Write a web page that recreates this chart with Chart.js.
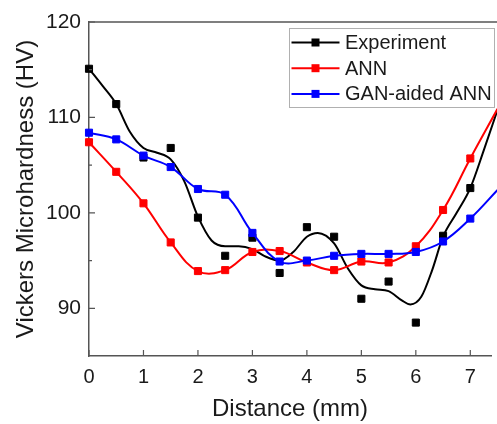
<!DOCTYPE html>
<html>
<head>
<meta charset="utf-8">
<script src="https://cdn.jsdelivr.net/npm/chart.js@4/dist/chart.umd.min.js"></script>
<style>
  html, body { margin: 0; padding: 0; background: #fff; overflow: hidden; }
  #c { display: block; }
</style>
</head>
<body>
<canvas id="c" width="497" height="424"></canvas>
<script>
// ---- Data ----
const distances = [0, 0.5, 1, 1.5, 2, 2.5, 3, 3.5, 4, 4.5, 5, 5.5, 6, 6.5, 7];
const experimentValues = [115.1, 111.4, 105.8, 106.8, 99.5, 95.5, 97.4, 93.7, 98.5, 97.5, 91.0, 92.8, 88.5, 97.6, 102.6];
const annValues = [107.4, 104.3, 101.0, 96.9, 93.9, 94.0, 95.9, 96.0, 94.8, 94.0, 94.9, 94.8, 96.5, 100.3, 105.7];
const ganValues = [108.4, 107.7, 106.0, 104.8, 102.5, 101.9, 97.9, 94.9, 95.0, 95.5, 95.7, 95.7, 95.9, 97.0, 99.4];
// line continuation past the right edge of the picture
const tailX = 7.5;
const annTail = 110.9;
const ganTail = 102.4;
// smoothed experiment curve
const expCurveX = [0, 0.25, 0.5, 0.75, 1.0, 1.25, 1.5, 1.75, 2.0, 2.25, 2.5, 2.75, 3.0, 3.25, 3.5, 3.75, 4.0, 4.2, 4.5, 4.75, 5.0, 5.25, 5.5, 5.75, 5.9, 6.1, 6.3, 6.5, 6.75, 7.0, 7.25, 7.5];
const expCurveY = [115.1, 113.3, 111.4, 108.5, 106.8, 106.3, 105.6, 103.3, 99.6, 97.1, 96.5, 96.5, 96.2, 95.4, 95.0, 95.9, 97.5, 97.9, 96.8, 94.2, 92.4, 92.0, 91.8, 90.8, 90.4, 91.2, 94.0, 97.5, 100.0, 102.6, 106.6, 110.8];
const xTickValues = [0, 1, 2, 3, 4, 5, 6, 7];
const yTickValues = [90, 100, 110, 120];
const yMinorTicks = [95, 105, 115];
const seriesLabels = ['Experiment', 'ANN', 'GAN-aided ANN'];
const seriesColors = ['#000000', '#ff0000', '#0000ff'];

const pts = (xs, ys) => xs.map((x, i) => ({x: x, y: ys[i]}));
const FONT = "'Liberation Sans', Arial, sans-serif";

const markerRadius = (n) => (ctx) => ctx.dataIndex < n ? 5 : 0;

const datasets = [
  {
    label: seriesLabels[2],
    data: pts(distances.concat([tailX]), ganValues.concat([ganTail])),
    borderColor: seriesColors[2], backgroundColor: seriesColors[2],
    pointBackgroundColor: seriesColors[2], pointBorderColor: seriesColors[2],
    borderWidth: 2, pointStyle: 'rect', pointRadius: markerRadius(distances.length), pointBorderWidth: 1,
    tension: 0.4, clip: false, order: 0, inLegend: true, legendIndex: 2
  },
  {
    label: seriesLabels[1],
    data: pts(distances.concat([tailX]), annValues.concat([annTail])),
    borderColor: seriesColors[1], backgroundColor: seriesColors[1],
    pointBackgroundColor: seriesColors[1], pointBorderColor: seriesColors[1],
    borderWidth: 2, pointStyle: 'rect', pointRadius: markerRadius(distances.length), pointBorderWidth: 1,
    tension: 0.4, clip: false, order: 1, inLegend: true, legendIndex: 1
  },
  {
    label: seriesLabels[0] + ' fit',
    data: pts(expCurveX, expCurveY),
    borderColor: seriesColors[0], backgroundColor: seriesColors[0],
    borderWidth: 2, pointRadius: 0, cubicInterpolationMode: 'monotone',
    clip: false, order: 2, inLegend: false
  },
  {
    label: seriesLabels[0],
    data: pts(distances, experimentValues),
    borderColor: seriesColors[0], backgroundColor: seriesColors[0],
    pointBackgroundColor: seriesColors[0], pointBorderColor: seriesColors[0],
    showLine: false, pointStyle: 'rect', pointRadius: 5, pointBorderWidth: 1,
    clip: false, order: 3, inLegend: true, legendIndex: 0
  }
];

const AXIS_COLOR = '#555555';

const frameAndLegend = {
  id: 'frameAndLegend',
  afterDraw(chart) {
    const ctx = chart.ctx;
    const ca = chart.chartArea;
    const xs = chart.scales.x, ys = chart.scales.y;
    ctx.save();
    // top frame line
    ctx.strokeStyle = AXIS_COLOR;
    ctx.lineWidth = 1.5;
    ctx.beginPath();
    ctx.moveTo(ca.left, ca.top);
    ctx.lineTo(chart.width, ca.top);
    ctx.stroke();
    // inward ticks
    ctx.lineWidth = 1.2;
    ctx.beginPath();
    xTickValues.forEach(v => {
      const px = xs.getPixelForValue(v);
      ctx.moveTo(px, ca.bottom);
      ctx.lineTo(px, ca.bottom - 6);
    });
    yTickValues.forEach(v => {
      const py = ys.getPixelForValue(v);
      ctx.moveTo(ca.left, py);
      ctx.lineTo(ca.left + 6, py);
    });
    yMinorTicks.forEach(v => {
      const py = ys.getPixelForValue(v);
      ctx.moveTo(ca.left, py);
      ctx.lineTo(ca.left + 3, py);
    });
    ctx.stroke();

    // legend
    const bx = 289.5, by = 28.5, bw = 205, bh = 79;
    ctx.fillStyle = '#ffffff';
    ctx.fillRect(bx, by, bw, bh);
    ctx.strokeStyle = '#b0b0b0';
    ctx.lineWidth = 1;
    ctx.strokeRect(bx, by, bw, bh);
    const items = chart.data.datasets.filter(d => d.inLegend).sort((a, b) => a.legendIndex - b.legendIndex);
    ctx.font = '20px ' + FONT;
    ctx.textBaseline = 'middle';
    ctx.textAlign = 'left';
    items.forEach((d, i) => {
      const y = 42.5 + i * 25.7;
      ctx.strokeStyle = d.borderColor;
      ctx.lineWidth = 2;
      ctx.beginPath();
      ctx.moveTo(291.5, y);
      ctx.lineTo(339.5, y);
      ctx.stroke();
      ctx.fillStyle = d.borderColor;
      ctx.fillRect(311.5, y - 4, 8, 8);
      ctx.fillStyle = '#1a1a1a';
      ctx.fillText(d.label, 345, y + 1);
    });
    ctx.restore();
  }
};

new Chart(document.getElementById('c'), {
  type: 'line',
  data: { datasets: datasets },
  options: {
    responsive: false,
    animation: false,
    events: [],
    layout: { padding: { left: 0, top: 22, right: 0, bottom: 0 } },
    plugins: { legend: { display: false }, tooltip: { enabled: false } },
    scales: {
      x: {
        type: 'linear',
        min: 0, max: 7.38,
        afterFit(scale) { scale.height = 68; },
        afterBuildTicks(scale) { scale.ticks = xTickValues.map(v => ({value: v})); },
        grid: { display: true, drawOnChartArea: false, drawTicks: false },
        border: { display: true, color: AXIS_COLOR, width: 1.5 },
        ticks: { color: '#1a1a1a', font: { family: FONT, size: 20 }, padding: 9, maxRotation: 0 },
        title: { display: true, text: 'Distance (mm)', color: '#1a1a1a', font: { family: FONT, size: 24 }, padding: { top: 0, bottom: 0 } }
      },
      y: {
        type: 'linear',
        min: 85, max: 120,
        afterFit(scale) { scale.width = 89; },
        afterBuildTicks(scale) { scale.ticks = yTickValues.map(v => ({value: v})); },
        grid: { display: true, drawOnChartArea: false, drawTicks: false },
        border: { display: true, color: AXIS_COLOR, width: 1.5 },
        ticks: { color: '#1a1a1a', font: { family: FONT, size: 21 }, padding: 8 },
        title: { display: true, text: 'Vickers Microhardness (HV)', color: '#1a1a1a', font: { family: FONT, size: 24 }, padding: { top: 12, bottom: 0 } }
      }
    }
  },
  plugins: [frameAndLegend]
});
</script>
</body>
</html>
